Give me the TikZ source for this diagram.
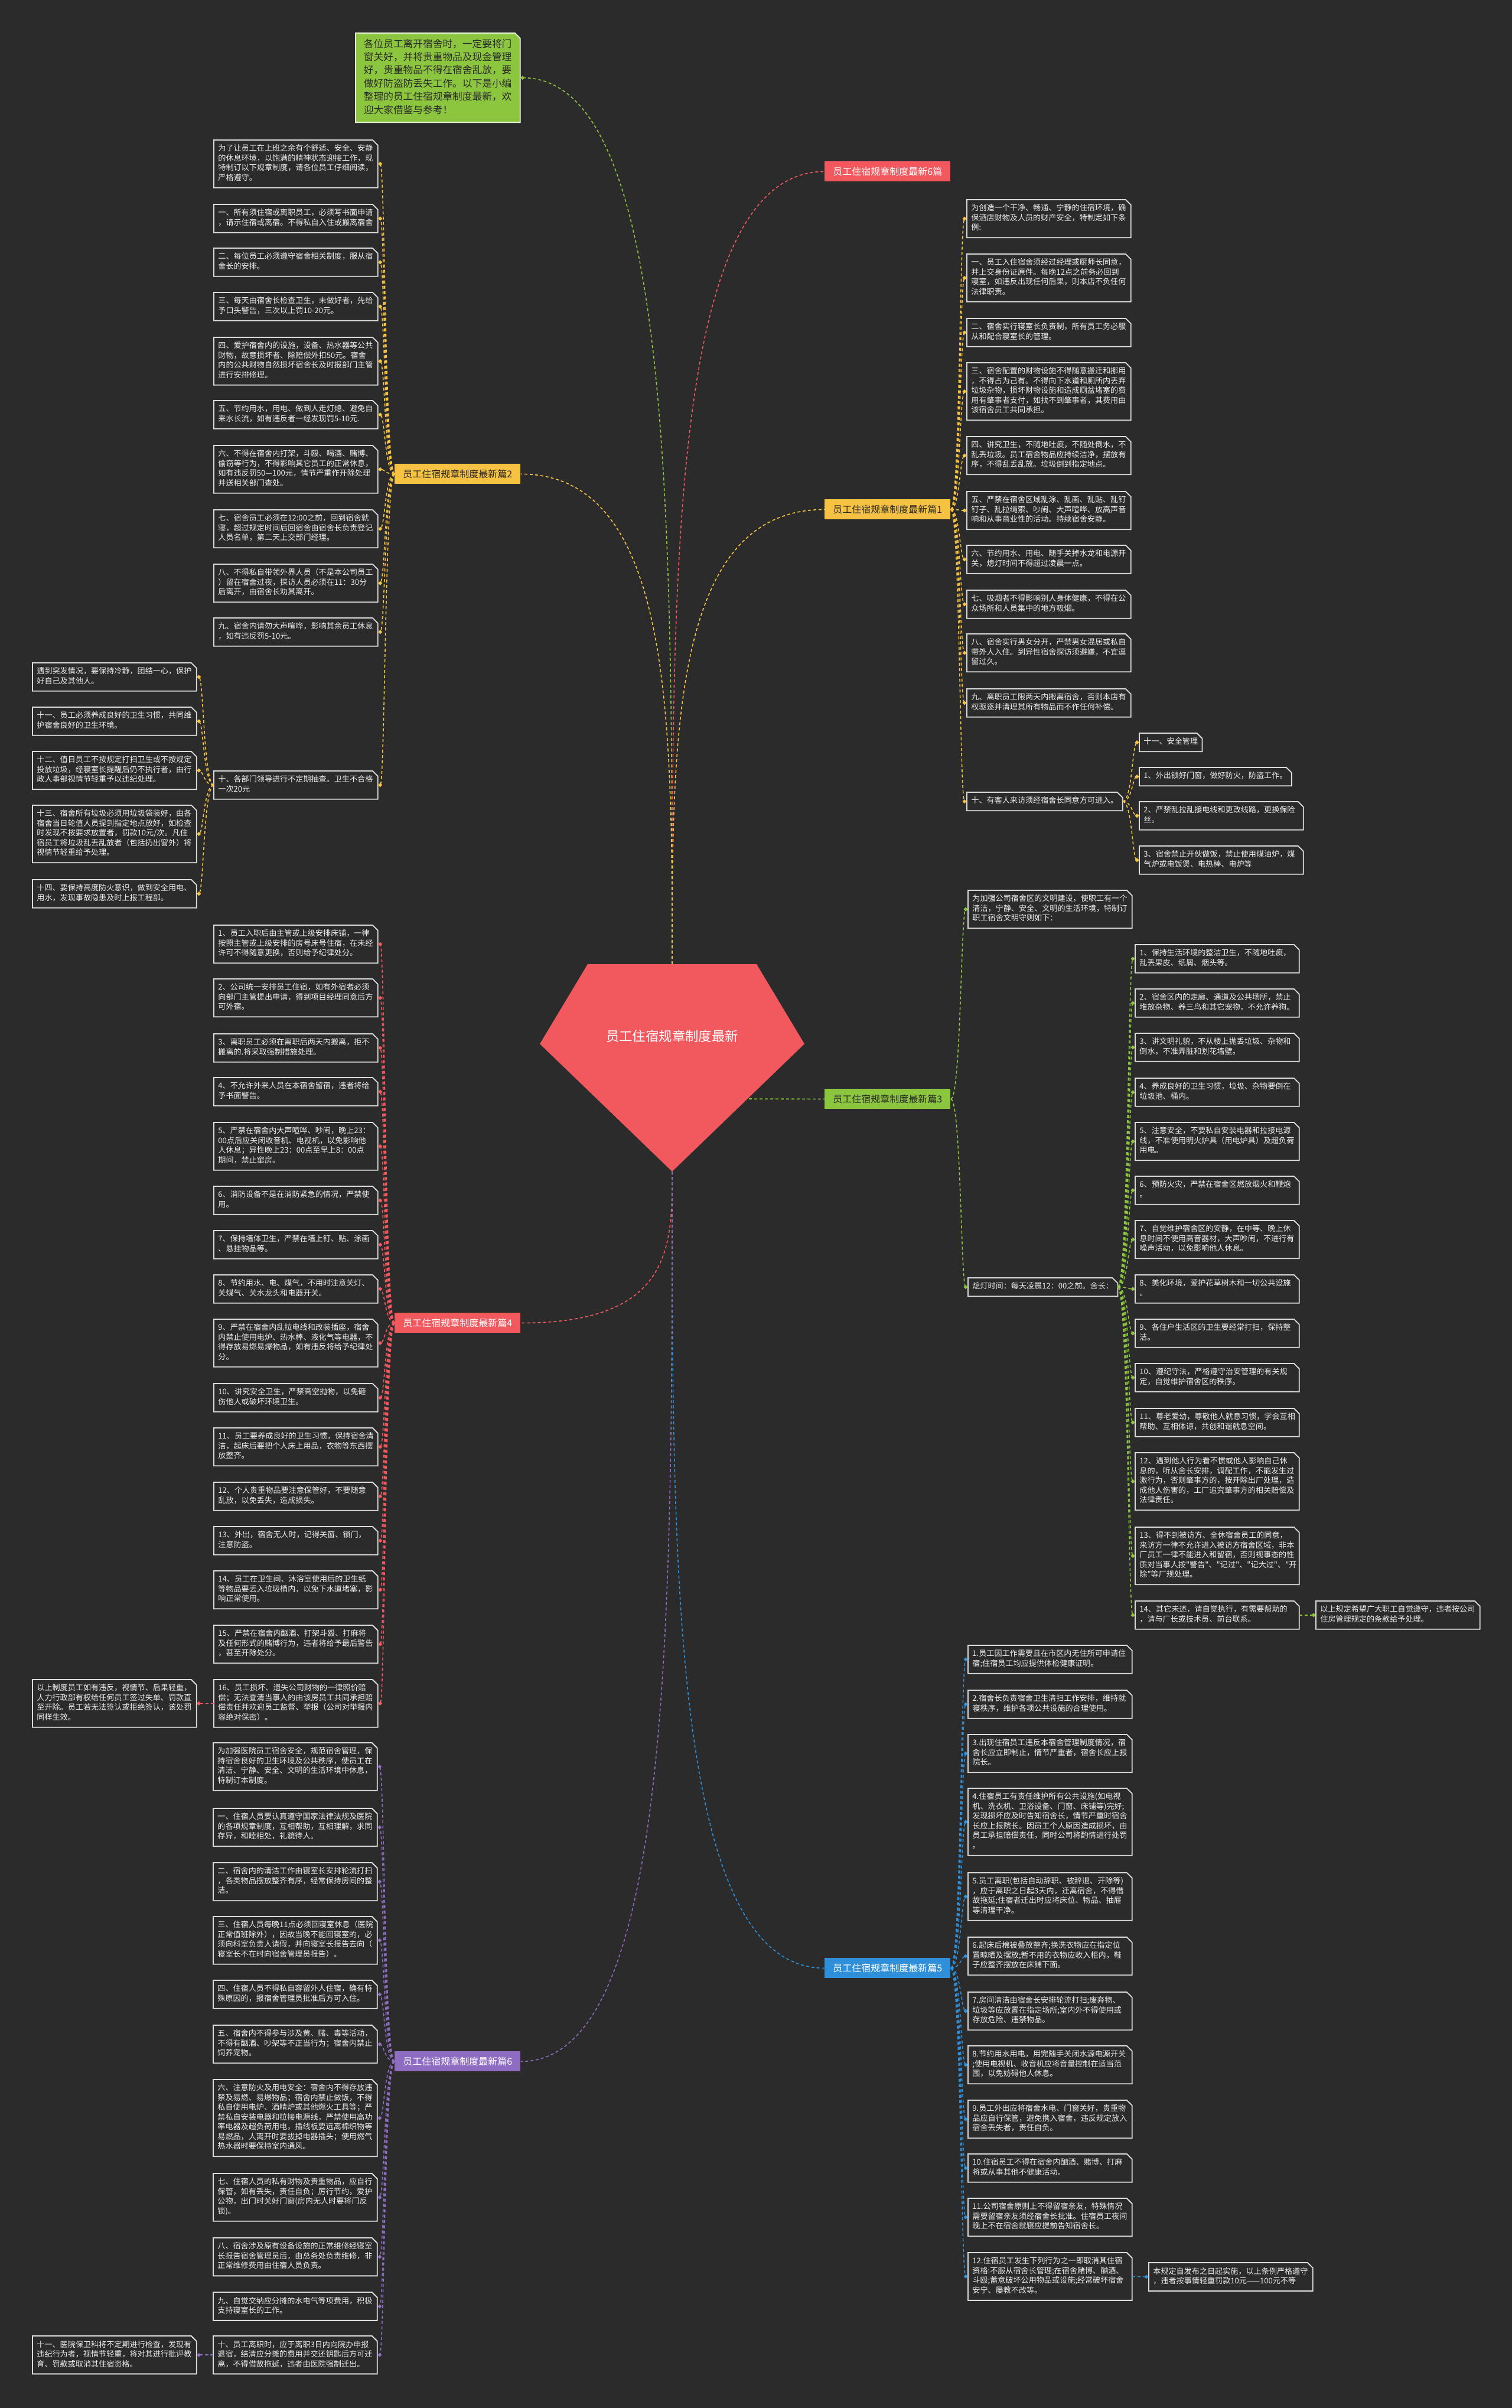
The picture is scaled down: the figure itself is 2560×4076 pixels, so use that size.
\documentclass[tikz,border=0pt]{standalone}
\usepackage{fontspec}
\setmainfont{Noto Sans CJK SC}
\usetikzlibrary{calc}
\definecolor{bgc}{HTML}{2B2B2B}
\definecolor{boxline}{HTML}{DCDCDC}
\definecolor{txt}{HTML}{EDEDED}
\definecolor{cyel}{HTML}{F5C242}
\definecolor{cred}{HTML}{F2595E}
\definecolor{cgrn}{HTML}{8CC63F}
\definecolor{cblu}{HTML}{2F8FD8}
\definecolor{cpur}{HTML}{8E6CC2}
\definecolor{darktxt}{HTML}{2A2A2A}
\newcommand\boxfont{\fontsize{6.55pt}{8.25pt}\selectfont}
\newcommand\labfont{\fontsize{8pt}{9pt}\selectfont}
\newcommand\introfont{\fontsize{8.35pt}{11.2pt}\selectfont}
\newcommand\rootfont{\fontsize{11.2pt}{13pt}\selectfont}
\newcommand\dq{\XeTeXglyph\XeTeXcharglyph"22\relax}
\pgfdeclarelayer{bgl}
\pgfsetlayers{bgl,main}
\tikzset{
  tb/.style={anchor=north west, text=txt, font=\boxfont, text width=131.5pt, align=left,
    inner xsep=3.5pt, inner ysep=3.5pt, execute at begin node=\strut, execute at end node=\strut},
  sb/.style={anchor=north west, text=txt, font=\boxfont, align=left,
    inner xsep=3.5pt, inner ysep=3.5pt, execute at begin node=\strut, execute at end node=\strut},
  lab/.style={fill=#1, anchor=north west, minimum width=106.5pt, minimum height=17pt, inner sep=0pt, font=\labfont},
  conn/.style={line width=0.8pt, dash pattern=on 2.5pt off 2pt, #1},
}
% chamfered box border
\newcommand\chb[1]{\draw[boxline, line width=0.9pt] (#1.north west) -- ([xshift=-4.5pt]#1.north east) -- ([yshift=-4.5pt]#1.north east) -- (#1.south east) -- (#1.south west) -- cycle;}
% diamond marker
\newcommand\dmd[2]{\fill[#1] (#2) +(0,3.5) -- +(3.5,0) -- +(0,-3.5) -- +(-3.5,0) -- cycle;}
% parent on the right, child on the left
\newcommand\lkL[3]{%
  \draw[conn=#3] (#1.west) .. controls ($(#2.east |- #1.west)+(6pt,0)$) and ($(#2.east)+(6pt,0)$) .. ($(#2.east)+(2pt,0)$);
  \fill[#3] ($(#2.east)+(2pt,0)$) +(0,3.5) -- +(3.5,0) -- +(0,-3.5) -- +(-3.5,0) -- cycle;}
% parent on the left, child on the right
\newcommand\lkR[3]{%
  \draw[conn=#3] (#1.east) .. controls ($(#2.west |- #1.east)+(-6pt,0)$) and ($(#2.west)+(-6pt,0)$) .. ($(#2.west)+(-2pt,0)$);
  \fill[#3] ($(#2.west)+(-2pt,0)$) +(0,3.5) -- +(3.5,0) -- +(0,-3.5) -- +(-3.5,0) -- cycle;}
% root curve
\newcommand\rk[3]{\draw[conn=#3] (#1) .. controls ($(#1)!0.5!(#1 |- #2)$) and (#1 |- #2) .. (#2);}
\begin{document}
\begin{tikzpicture}[x=0.5pt,y=-0.5pt]
\useasboundingbox (0,0) rectangle (2560,4076);
\begin{pgfonlayer}{bgl}
\fill[bgc] (0,0) rectangle (2560,4076);
\fill[cred] (995,1632) -- (1281,1632) -- (1362,1767) -- (1138,1983) -- (914,1767) -- cycle;
\end{pgfonlayer}

% root
\node[text=white, font=\rootfont] (root) at (1138,1754) {员工住宿规章制度最新};
\coordinate (rtop) at (1138,1632);
\coordinate (rbot) at (1138,1983);
\coordinate (rr) at (1268,1860);

% intro
\node[anchor=north west, text=darktxt, font=\introfont, text width=125.5pt, align=left, inner xsep=6.75pt, inner ysep=4pt,
  execute at begin node=\strut, execute at end node=\strut] (intro) at (602,56)
  {各位员工离开宿舍时，一定要将门\\窗关好，并将贵重物品及现金管理\\好，贵重物品不得在宿舍乱放，要\\做好防盗防丢失工作。以下是小编\\整理的员工住宿规章制度最新，欢\\迎大家借鉴与参考！};
\begin{pgfonlayer}{bgl}
\filldraw[fill=cgrn, draw=white!80!cgrn, line width=0.9pt] (intro.north west) -- ([xshift=-4.5pt]intro.north east) -- ([yshift=-4.5pt]intro.north east) -- (intro.south east) -- (intro.south west) -- cycle;
\end{pgfonlayer}

% labels
\node[lab=cred, text=white] (L0) at (1396,273) {员工住宿规章制度最新6篇};
\node[lab=cyel, text=darktxt] (L2) at (668,785) {员工住宿规章制度最新篇2};
\node[lab=cyel, text=darktxt] (L1) at (1396,845) {员工住宿规章制度最新篇1};
\node[lab=cgrn, text=darktxt] (L3) at (1396,1843) {员工住宿规章制度最新篇3};
\node[lab=cred, text=white] (L4) at (668,2222) {员工住宿规章制度最新篇4};
\node[lab=cblu, text=white] (L5) at (1396,3314) {员工住宿规章制度最新篇5};
\node[lab=cpur, text=white] (L6) at (668,3472) {员工住宿规章制度最新篇6};

% ---------- branch 2 ----------
\node[tb] (b2a) at (362,237) {为了让员工在上班之余有个舒适、安全、安静\\的休息环境，以饱满的精神状态迎接工作，现\\特制订以下规章制度，请各位员工仔细阅读，\\严格遵守。};
\node[tb] (b2b) at (362,346) {一、所有须住宿或离职员工，必须写书面申请\\，请示住宿或离宿。不得私自入住或搬离宿舍};
\node[tb] (b2c) at (362,420) {二、每位员工必须遵守宿舍相关制度，服从宿\\舍长的安排。};
\node[tb] (b2d) at (362,495) {三、每天由宿舍长检查卫生，未做好者，先给\\予口头警告，三次以上罚10-20元。};
\node[tb] (b2e) at (362,571) {四、爱护宿舍内的设施，设备、热水器等公共\\财物，故意损坏者、除赔偿外扣50元。宿舍\\内的公共财物自然损坏宿舍长及时报部门主管\\进行安排修理。};
\node[tb] (b2f) at (362,678) {五、节约用水，用电、做到人走灯熄、避免自\\来水长流，如有违反者一经发现罚5-10元.};
\node[tb] (b2g) at (362,754) {六、不得在宿舍内打架，斗殴、喝酒、赌博、\\偷窃等行为，不得影响其它员工的正常休息，\\如有违反罚50—100元，情节严重作开除处理\\并送相关部门查处。};
\node[tb] (b2h) at (362,863) {七、宿舍员工必须在12:00之前，回到宿舍就\\寝，超过规定时间后回宿舍由宿舍长负责登记\\人员名单，第二天上交部门经理。};
\node[tb] (b2i) at (362,955) {八、不得私自带领外界人员（不是本公司员工\\）留在宿舍过夜，探访人员必须在11：30分\\后离开，由宿舍长劝其离开。};
\node[tb] (b2j) at (362,1046) {九、宿舍内请勿大声喧哗，影响其余员工休息\\，如有违反罚5-10元。};
\node[tb] (b2k) at (362,1305) {十、各部门领导进行不定期抽查。卫生不合格\\一次20元};
\node[tb] (f1) at (55,1122) {遇到突发情况，要保持冷静，团结一心，保护\\好自己及其他人。};
\node[tb] (f2) at (55,1197) {十一、员工必须养成良好的卫生习惯，共同维\\护宿舍良好的卫生环境。};
\node[tb] (f3) at (55,1272) {十二、值日员工不按规定打扫卫生或不按规定\\投放垃圾，经寝室长提醒后仍不执行者，由行\\政人事部视情节轻重予以违纪处理。};
\node[tb] (f4) at (55,1363) {十三、宿舍所有垃圾必须用垃圾袋装好，由各\\宿舍当日轮值人员提到指定地点放好，如检查\\时发现不按要求放置者，罚款10元/次。凡住\\宿员工将垃圾乱丢乱放者（包括扔出窗外）将\\视情节轻重给予处理。};
\node[tb] (f5) at (55,1489) {十四、要保持高度防火意识，做到安全用电、\\用水，发现事故隐患及时上报工程部。};

% ---------- branch 1 ----------
\node[tb] (b1a) at (1637,338) {为创造一个干净、畅通、宁静的住宿环境，确\\保酒店财物及人员的财产安全，特制定如下条\\例:};
\node[tb] (b1b) at (1637,430) {一、员工入住宿舍须经过经理或厨师长同意，\\并上交身份证原件。每晚12点之前务必回到\\寝室，如违反出现任何后果，则本店不负任何\\法律职责。};
\node[tb] (b1c) at (1637,539) {二、宿舍实行寝室长负责制，所有员工务必服\\从和配合寝室长的管理。};
\node[tb] (b1d) at (1637,614) {三、宿舍配置的财物设施不得随意搬迁和挪用\\，不得占为己有。不得向下水道和厕所内丢弃\\垃圾杂物，损坏财物设施和造成厕盆堵塞的费\\用有肇事者支付，如找不到肇事者，其费用由\\该宿舍员工共同承担。};
\node[tb] (b1e) at (1637,739) {四、讲究卫生，不随地吐痰，不随处倒水，不\\乱丢垃圾。员工宿舍物品应持续洁净，摆放有\\序，不得乱丢乱放。垃圾倒到指定地点。};
\node[tb] (b1f) at (1637,832) {五、严禁在宿舍区域乱涂、乱画、乱贴、乱钉\\钉子、乱拉绳索、吵闹、大声喧哗、放高声音\\响和从事商业性的活动。持续宿舍安静。};
\node[tb] (b1g) at (1637,923) {六、节约用水、用电、随手关掉水龙和电源开\\关，熄灯时间不得超过凌晨一点。};
\node[tb] (b1h) at (1637,999) {七、吸烟者不得影响别人身体健康，不得在公\\众场所和人员集中的地方吸烟。};
\node[tb] (b1i) at (1637,1073) {八、宿舍实行男女分开，严禁男女混居或私自\\带外人入住。到异性宿舍探访须避嫌，不宜逗\\留过久。};
\node[tb] (b1j) at (1637,1166) {九、离职员工限两天内搬离宿舍，否则本店有\\权驱逐并清理其所有物品而不作任何补偿。};
\node[sb] (b1k) at (1637,1341) {十、有客人来访须经宿舍长同意方可进入。};
\node[sb] (k1) at (1929,1241) {十一、安全管理};
\node[sb] (k2) at (1929,1299) {1、外出锁好门窗，做好防火，防盗工作。};
\node[tb] (k3) at (1929,1357) {2、严禁乱拉乱接电线和更改线路，更换保险\\丝。};
\node[tb] (k4) at (1929,1432) {3、宿舍禁止开伙做饭，禁止使用煤油炉，煤\\气炉或电饭煲、电热棒、电炉等};

% ---------- branch 3 ----------
\node[tb] (b3a) at (1639,1507) {为加强公司宿舍区的文明建设，使职工有一个\\清洁，宁静、安全、文明的生活环境，特制订\\职工宿舍文明守则如下：};
\node[sb] (b3b) at (1639,2163) {熄灯时间：每天凌晨12：00之前。舍长：};
\node[tb] (c1) at (1922,1599) {1、保持生活环境的整洁卫生，不随地吐痰，\\乱丢果皮、纸屑、烟头等。};
\node[tb] (c2) at (1922,1674) {2、宿舍区内的走廊、通道及公共场所，禁止\\堆放杂物、养三鸟和其它宠物，不允许养狗。};
\node[tb] (c3) at (1922,1749) {3、讲文明礼貌，不从楼上抛丢垃圾、杂物和\\倒水，不准弄脏和划花墙壁。};
\node[tb] (c4) at (1922,1825) {4、养成良好的卫生习惯，垃圾、杂物要倒在\\垃圾池、桶内。};
\node[tb] (c5) at (1922,1900) {5、注意安全，不要私自安装电器和拉接电源\\线，不准使用明火炉具（用电炉具）及超负荷\\用电。};
\node[tb] (c6) at (1922,1991) {6、预防火灾，严禁在宿舍区燃放烟火和鞭炮\\。};
\node[tb] (c7) at (1922,2066) {7、自觉维护宿舍区的安静，在中等、晚上休\\息时间不使用高音器材，大声吵闹，不进行有\\噪声活动，以免影响他人休息。};
\node[tb] (c8) at (1922,2158) {8、美化环境，爱护花草树木和一切公共设施\\。};
\node[tb] (c9) at (1922,2233) {9、各住户生活区的卫生要经常打扫，保持整\\洁。};
\node[tb] (c10) at (1922,2308) {10、遵纪守法，严格遵守治安管理的有关规\\定，自觉维护宿舍区的秩序。};
\node[tb] (c11) at (1922,2384) {11、尊老爱幼，尊敬他人就息习惯，学会互相\\帮助、互相体谅，共创和谐就息空间。};
\node[tb] (c12) at (1922,2459) {12、遇到他人行为看不惯或他人影响自己休\\息的，听从舍长安排，调配工作，不能发生过\\激行为，否则肇事方的，按开除出厂处理，造\\成他人伤害的，工厂追究肇事方的相关赔偿及\\法律责任。};
\node[tb] (c13) at (1922,2585) {13、得不到被访方、全休宿舍员工的同意，\\来访方一律不允许进入被访方宿舍区域，非本\\厂员工一律不能进入和留宿，否则视事态的性\\质对当事人按\dq 警告\dq 、\dq 记过\dq 、\dq 记大过\dq 、\dq 开\\除\dq 等厂规处理。};
\node[tb] (c14) at (1922,2710) {14、其它未述，请自觉执行，有需要帮助的\\，请与厂长或技术员、前台联系。};
\node[tb] (c3n) at (2228,2710) {以上规定希望广大职工自觉遵守，违者按公司\\住房管理规定的条款给予处理。};

% ---------- branch 4 ----------
\node[tb] (d1) at (362,1566) {1、员工入职后由主管或上级安排床铺，一律\\按照主管或上级安排的房号床号住宿，在未经\\许可不得随意更换，否则给予纪律处分。};
\node[tb] (d2) at (362,1657) {2、公司统一安排员工住宿，如有外宿者必须\\向部门主管提出申请，得到项目经理同意后方\\可外宿。};
\node[tb] (d3) at (362,1750) {3、离职员工必须在离职后两天内搬离，拒不\\搬离的.将采取强制措施处理。};
\node[tb] (d4) at (362,1824) {4、不允许外来人员在本宿舍留宿，违者将给\\予书面警告。};
\node[tb] (d5) at (362,1900) {5、严禁在宿舍内大声喧哗、吵闹，晚上23：\\00点后应关闭收音机、电视机，以免影响他\\人休息；异性晚上23：00点至早上8：00点\\期间，禁止窜房。};
\node[tb] (d6) at (362,2008) {6、消防设备不是在消防紧急的情况，严禁使\\用。};
\node[tb] (d7) at (362,2083) {7、保持墙体卫生，严禁在墙上钉、贴、涂画\\、悬挂物品等。};
\node[tb] (d8) at (362,2158) {8、节约用水、电、煤气，不用时注意关灯、\\关煤气、关水龙头和电器开关。};
\node[tb] (d9) at (362,2233) {9、严禁在宿舍内乱拉电线和改装插座，宿舍\\内禁止使用电炉、热水棒、液化气等电器，不\\得存放易燃易爆物品，如有违反将给予纪律处\\分。};
\node[tb] (d10) at (362,2342) {10、讲究安全卫生，严禁高空抛物，以免砸\\伤他人或破坏环境卫生。};
\node[tb] (d11) at (362,2417) {11、员工要养成良好的卫生习惯，保持宿舍清\\洁，起床后要把个人床上用品，衣物等东西摆\\放整齐。};
\node[tb] (d12) at (362,2509) {12、个人贵重物品要注意保管好，不要随意\\乱放，以免丢失，造成损失。};
\node[tb] (d13) at (362,2584) {13、外出，宿舍无人时，记得关窗、锁门，\\注意防盗。};
\node[tb] (d14) at (362,2659) {14、员工在卫生间、沐浴室使用后的卫生纸\\等物品要丢入垃圾桶内，以免下水道堵塞，影\\响正常使用。};
\node[tb] (d15) at (362,2751) {15、严禁在宿舍内酗酒、打架斗殴、打麻将\\及任何形式的赌博行为，违者将给予最后警告\\，甚至开除处分。};
\node[tb] (d16) at (362,2843) {16、员工损坏、遗失公司财物的一律照价赔\\偿；无法查清当事人的由该房员工共同承担赔\\偿责任并欢迎员工监督、举报（公司对举报内\\容绝对保密）。};
\node[tb] (dn) at (55,2843) {以上制度员工如有违反，视情节、后果轻重，\\人力行政部有权给任何员工签过失单、罚款直\\至开除。员工若无法签认或拒绝签认，该处罚\\同样生效。};

% ---------- branch 5 ----------
\node[tb] (e1) at (1639,2785) {1.员工因工作需要且在市区内无住所可申请住\\宿;住宿员工均应提供体检健康证明。};
\node[tb] (e2) at (1639,2861) {2.宿舍长负责宿舍卫生清扫工作安排，维持就\\寝秩序，维护各项公共设施的合理使用。};
\node[tb] (e3) at (1639,2936) {3.出现住宿员工违反本宿舍管理制度情况，宿\\舍长应立即制止，情节严重者，宿舍长应上报\\院长。};
\node[tb] (e4) at (1639,3027) {4.住宿员工有责任维护所有公共设施(如电视\\机、洗衣机、卫浴设备、门窗、床铺等)完好;\\发现损坏应及时告知宿舍长，情节严重时宿舍\\长应上报院长。因员工个人原因造成损坏，由\\员工承担赔偿责任，同时公司将酌情进行处罚\\。};
\node[tb] (e5) at (1639,3170) {5.员工离职(包括自动辞职、被辞退、开除等)\\，应于离职之日起3天内，迁离宿舍，不得借\\故拖延;住宿者迁出时应将床位、物品、抽屉\\等清理干净。};
\node[tb] (e6) at (1639,3279) {6.起床后棉被叠放整齐;换洗衣物应在指定位\\置晾晒及摆放;暂不用的衣物应收入柜内，鞋\\子应整齐摆放在床铺下面。};
\node[tb] (e7) at (1639,3372) {7.房间清洁由宿舍长安排轮流打扫;废弃物、\\垃圾等应放置在指定场所;室内外不得使用或\\存放危险、违禁物品。};
\node[tb] (e8) at (1639,3463) {8.节约用水用电，用完随手关闭水源电源开关\\;使用电视机、收音机应将音量控制在适当范\\围，以免妨碍他人休息。};
\node[tb] (e9) at (1639,3555) {9.员工外出应将宿舍水电、门窗关好，贵重物\\品应自行保管，避免携入宿舍，违反规定放入\\宿舍丢失者，责任自负。};
\node[tb] (e10) at (1639,3646) {10.住宿员工不得在宿舍内酗酒、赌博、打麻\\将或从事其他不健康活动。};
\node[tb] (e11) at (1639,3721) {11.公司宿舍原则上不得留宿亲友，特殊情况\\需要留宿亲友须经宿舍长批准。住宿员工夜间\\晚上不在宿舍就寝应提前告知宿舍长。};
\node[tb] (e12) at (1639,3813) {12.住宿员工发生下列行为之一即取消其住宿\\资格:不服从宿舍长管理;在宿舍赌博、酗酒、\\斗殴;蓄意破坏公用物品或设施;经常破坏宿舍\\安宁、屡教不改等。};
\node[tb] (en) at (1945,3830) {本规定自发布之日起实施，以上条例严格遵守\\，违者按事情轻重罚款10元——100元不等};

% ---------- branch 6 ----------
\node[tb] (g0) at (361,2950) {为加强医院员工宿舍安全，规范宿舍管理，保\\持宿舍良好的卫生环境及公共秩序，使员工在\\清洁、宁静、安全、文明的生活环境中休息，\\特制订本制度。};
\node[tb] (g1) at (361,3061) {一、住宿人员要认真遵守国家法律法规及医院\\的各项规章制度，互相帮助，互相理解，求同\\存异，和睦相处，礼貌待人。};
\node[tb] (g2) at (361,3153) {二、宿舍内的清洁工作由寝室长安排轮流打扫\\，各类物品摆放整齐有序，经常保持房间的整\\洁。};
\node[tb] (g3) at (361,3244) {三、住宿人员每晚11点必须回寝室休息（医院\\正常值班除外），因故当晚不能回寝室的，必\\须向科室负责人请假，并向寝室长报告去向（\\寝室长不在时向宿舍管理员报告）。};
\node[tb] (g4) at (361,3352) {四、住宿人员不得私自容留外人住宿，确有特\\殊原因的，报宿舍管理员批准后方可入住。};
\node[tb] (g5) at (361,3428) {五、宿舍内不得参与涉及黄、赌、毒等活动，\\不得有酗酒、吵架等不正当行为；宿舍内禁止\\饲养宠物。};
\node[tb] (g6) at (361,3520) {六、注意防火及用电安全：宿舍内不得存放违\\禁及易燃、易爆物品；宿舍内禁止做饭，不得\\私自使用电炉、酒精炉或其他燃火工具等；严\\禁私自安装电器和拉接电源线，严禁使用高功\\率电器及超负荷用电，插线板要远离棉织物等\\易燃品，人离开时要拔掉电器插头；使用燃气\\热水器时要保持室内通风。};
\node[tb] (g7) at (361,3679) {七、住宿人员的私有财物及贵重物品，应自行\\保管，如有丢失，责任自负；厉行节约，爱护\\公物，出门时关好门窗(房内无人时要将门反\\锁)。};
\node[tb] (g8) at (361,3788) {八、宿舍涉及原有设备设施的正常维修经寝室\\长报告宿舍管理员后，由总务处负责维修，非\\正常维修费用由住宿人员负责。};
\node[tb] (g9) at (361,3880) {九、自觉交纳应分摊的水电气等项费用，积极\\支持寝室长的工作。};
\node[tb] (g10) at (361,3954) {十、员工离职时，应于离职3日内向院办申报\\退宿，结清应分摊的费用并交还钥匙后方可迁\\离，不得借故拖延，违者由医院强制迁出。};
\node[tb] (gn) at (55,3954) {十一、医院保卫科将不定期进行检查，发现有\\违纪行为者，视情节轻重，将对其进行批评教\\育、罚款或取消其住宿资格。};

% box borders
\foreach \n in {b2a,b2b,b2c,b2d,b2e,b2f,b2g,b2h,b2i,b2j,b2k,f1,f2,f3,f4,f5,
  b1a,b1b,b1c,b1d,b1e,b1f,b1g,b1h,b1i,b1j,b1k,k1,k2,k3,k4,
  b3a,b3b,c1,c2,c3,c4,c5,c6,c7,c8,c9,c10,c11,c12,c13,c14,c3n,
  d1,d2,d3,d4,d5,d6,d7,d8,d9,d10,d11,d12,d13,d14,d15,d16,dn,
  e1,e2,e3,e4,e5,e6,e7,e8,e9,e10,e11,e12,en,
  g0,g1,g2,g3,g4,g5,g6,g7,g8,g9,g10,gn}{\chb{\n}}

% root connectors
\coordinate (ip) at ($(intro.east)+(2pt,0)$);
\rk{rtop}{ip}{cgrn}
\dmd{cgrn}{ip}
\rk{rtop}{L0.west}{cred}
\rk{rtop}{L2.east}{cyel}
\rk{rtop}{L1.west}{cyel}
\draw[conn=cgrn] (rr) -- (L3.west);
\rk{rbot}{L4.east}{cred}
\rk{rbot}{L5.west}{cblu}
\rk{rbot}{L6.east}{cpur}

% branch 2 links
\foreach \c in {b2a,b2b,b2c,b2d,b2e,b2f,b2g,b2h,b2i,b2j,b2k}{\lkL{L2}{\c}{cyel}}
\foreach \c in {f1,f2,f3,f4,f5}{\lkL{b2k}{\c}{cyel}}
% branch 1 links
\foreach \c in {b1a,b1b,b1c,b1d,b1e,b1f,b1g,b1h,b1i,b1j,b1k}{\lkR{L1}{\c}{cyel}}
\foreach \c in {k1,k2,k3,k4}{\lkR{b1k}{\c}{cyel}}
% branch 3 links
\lkR{L3}{b3a}{cgrn}
\lkR{L3}{b3b}{cgrn}
\foreach \c in {c1,c2,c3,c4,c5,c6,c7,c8,c9,c10,c11,c12,c13,c14}{\lkR{b3b}{\c}{cgrn}}
\lkR{c14}{c3n}{cgrn}
% branch 4 links
\foreach \c in {d1,d2,d3,d4,d5,d6,d7,d8,d9,d10,d11,d12,d13,d14,d15,d16}{\lkL{L4}{\c}{cred}}
\lkL{d16}{dn}{cred}
% branch 5 links
\foreach \c in {e1,e2,e3,e4,e5,e6,e7,e8,e9,e10,e11,e12}{\lkR{L5}{\c}{cblu}}
\lkR{e12}{en}{cblu}
% branch 6 links
\foreach \c in {g0,g1,g2,g3,g4,g5,g6,g7,g8,g9,g10}{\lkL{L6}{\c}{cpur}}
\lkL{g10}{gn}{cpur}
\end{tikzpicture}
\end{document}
